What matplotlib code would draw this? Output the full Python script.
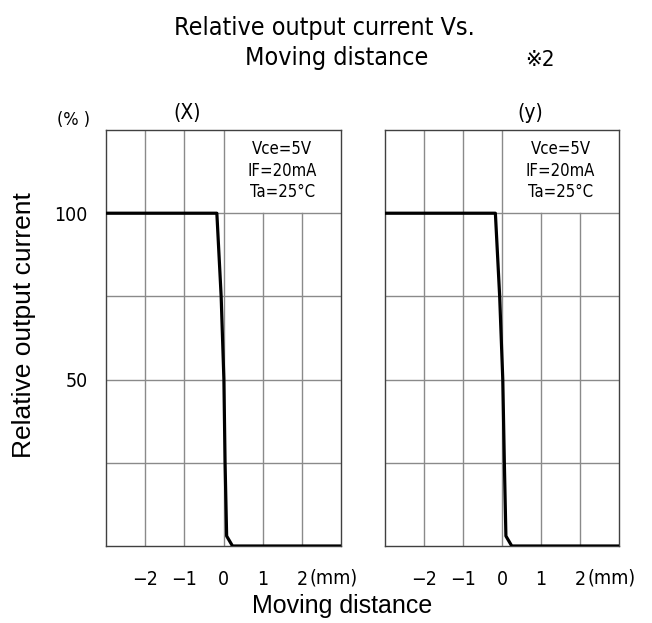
import numpy as np
import matplotlib.pyplot as plt

plt.rcParams['font.family'] = ['DejaVu Sans', 'Noto Sans CJK JP']
plt.rcParams['font.stretch'] = 'condensed'

# curve points (mm, %)
x_left = [-3.0, -0.17, -0.06, 0.01, 0.04, 0.08, 0.23, 3.0]
y_left = [100, 100, 75, 50, 25, 3, 0, 0]
x_right = [-3.0, -0.17, -0.06, 0.02, 0.06, 0.10, 0.25, 3.0]
y_right = [100, 100, 75, 50, 25, 3, 0, 0]

panel_titles = ['(X)', '(y)']
cond_lines = ['Vce=5V', 'IF=20mA', 'Ta=25\u00b0C']
x_ticks = [-2, -1, 0, 1, 2]
x_ticklabels = ['\u22122', '\u22121', '0', '1', '2']
y_ticks = [50, 100]
y_ticklabels = ['50', '100']

fig = plt.figure(figsize=(6.52, 6.23), dpi=100)
ax1 = fig.add_axes([0.1626, 0.1236, 0.3604, 0.6677])
ax2 = fig.add_axes([0.5905, 0.1236, 0.3589, 0.6677])

grid_c = '#8a8a8a'
panels = [(ax1, x_left, y_left, panel_titles[0], -0.93),
          (ax2, x_right, y_right, panel_titles[1], 0.72)]
for ax, xx, yy, ttl, tx in panels:
    ax.set_xlim(-3, 3)
    ax.set_ylim(0, 125)
    # horizontal grid lines
    for g in [25, 50, 75, 100]:
        ax.axhline(g, color=grid_c, lw=1.0, zorder=1)
    # vertical grid lines (right part of top row is the condition box)
    for g in [-2, -1, 0]:
        ax.plot([g, g], [0, 125], color=grid_c, lw=1.0, zorder=1)
    for g in [1, 2]:
        ax.plot([g, g], [0, 100], color=grid_c, lw=1.0, zorder=1)
    ax.plot(xx, yy, color='black', lw=2.3, zorder=3)
    for sp in ax.spines.values():
        sp.set_color('#404040')
        sp.set_linewidth(1.0)
    ax.set_xticks(x_ticks)
    ax.set_xticklabels(x_ticklabels, fontsize=14)
    ax.tick_params(axis='x', length=0, pad=17)
    ax.text(2.2, -0.078, '(mm)', ha='left', va='center', fontsize=14,
            transform=ax.get_xaxis_transform(), clip_on=False)
    ax.set_yticks([])
    ax.text(tx, 127, ttl, ha='center', va='bottom', fontsize=15)
    for i, s in enumerate(cond_lines):
        ax.text(1.5, 119.3 - 6.5 * i, s, ha='center', va='center', fontsize=12)

ax1.set_yticks(y_ticks)
ax1.set_yticklabels(y_ticklabels, fontsize=14)
ax1.tick_params(axis='y', length=0, pad=13)
ax1.set_ylabel('Relative output current', fontsize=19, family='Liberation Sans',
               stretch='normal')
ax1.yaxis.set_label_coords(-0.298, 0.53)
fig.text(0.112, 0.808, '(% )', ha='center', va='center', fontsize=13)

fig.text(0.497, 0.955, 'Relative output current Vs.', ha='center', va='center', fontsize=18)
fig.text(0.517, 0.907, 'Moving distance', ha='center', va='center', fontsize=18)
fig.text(0.828, 0.903, '\u203b2', ha='center', va='center', fontsize=16)
fig.text(0.525, 0.028, 'Moving distance', ha='center', va='center', fontsize=18,
         family='Liberation Sans', stretch='normal')

fig.savefig('out.png', dpi=100, facecolor='white')
